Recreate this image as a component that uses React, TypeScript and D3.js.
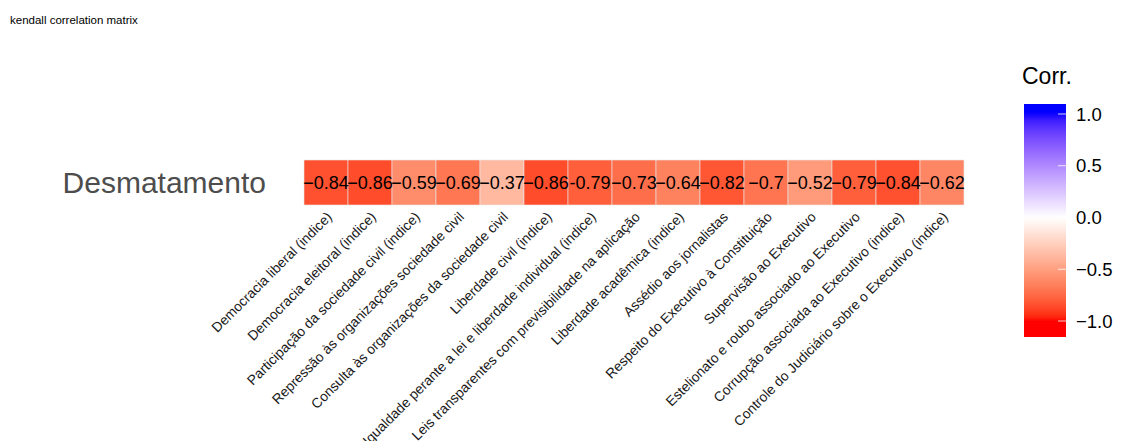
import React from "react";
import * as d3 from "d3";

const title = "kendall correlation matrix";
const rowLabel = "Desmatamento";
const variables = [
  "Democracia liberal (indice)",
  "Democracia eleitoral (indice)",
  "Participação da sociedade civil (indice)",
  "Repressão às organizações  sociedade civil",
  "Consulta às organizações da sociedade civil",
  "Liberdade civil (indice)",
  "Igualdade perante a lei e liberdade individual (indice)",
  "Leis transparentes com previsibilidade na aplicação",
  "Liberdade acadêmica (indice)",
  "Assédio aos jornalistas",
  "Respeito do Executivo à Constituição",
  "Supervisão ao Executivo",
  "Estelionato e roubo associado ao Executivo",
  "Corrupção associada ao Executivo (indice)",
  "Controle do Judiciário sobre o Executivo (indice)",
];
const values = [-0.84, -0.86, -0.59, -0.69, -0.37, -0.86, -0.79, -0.73, -0.64, -0.82, -0.7, -0.52, -0.79, -0.84, -0.62];
const valueLabels = ["−0.84", "−0.86", "−0.59", "−0.69", "−0.37", "−0.86", "-0.79", "−0.73", "−0.64", "−0.82", "−0.7", "−0.52", "−0.79", "−0.84", "−0.62"];
const legendTicks = [1.0, 0.5, 0.0, -0.5, -1.0];
const legendTickLabels = ["1.0", "0.5", "0.0", "−0.5", "−1.0"];

const FONT = "Liberation Sans, Arial, Helvetica, sans-serif";

function corrColor(v: number): string {
  const c = Math.max(-1, Math.min(1, v));
  if (c < 0) return d3.interpolateLab("#ffffff", "#ff0000")(-c);
  return d3.interpolateLab("#ffffff", "#0000ff")(c);
}

export default function App() {
  const W = 1122, H = 441;
  const x = d3.scaleBand<string>().domain(variables).range([304, 964]).padding(0);
  const tileTop = 160, tileH = 45;
  const cy = tileTop + tileH / 2;

  const legY = d3.scaleLinear().domain([-1, 1]).range([321, 114]);
  const barTop = 104, barBottom = 337, barX = 1024, barW = 42;
  const nStops = 60;
  const stops = d3.range(nStops + 1).map((i) => {
    const t = i / nStops;
    const yy = barTop + t * (barBottom - barTop);
    return { offset: t, color: corrColor(legY.invert(yy)) };
  });

  return (
    <svg width={W} height={H} style={{ position: "absolute", left: 0, top: 0, background: "#fff" }} fontFamily={FONT}>
      <defs>
        <linearGradient id="legGrad" x1="0" y1="0" x2="0" y2="1">
          {stops.map((s, i) => (
            <stop key={i} offset={s.offset} stopColor={s.color} />
          ))}
        </linearGradient>
      </defs>
      <rect x={0} y={0} width={W} height={H} fill="#fff" />
      <text x={10} y={24} fontSize={11.5} fill="#000">{title}</text>

      {variables.map((v, i) => (
        <rect key={v} x={x(v)} y={tileTop} width={x.bandwidth()} height={tileH}
          fill={corrColor(values[i])} stroke="#e6e6e6" strokeWidth={0.6} />
      ))}
      {variables.map((v, i) => (
        <text key={"t" + v} x={(x(v) as number) + x.bandwidth() / 2} y={cy} dy="0.36em"
          textAnchor="middle" fontSize={18} fill="#000">{valueLabels[i]}</text>
      ))}

      <text x={266} y={cy} dy="0.36em" textAnchor="end" fontSize={30} fill="#4d4d4d">{rowLabel}</text>

      {variables.map((v) => {
        const ax = (x(v) as number) + x.bandwidth() / 2 - 0.5;
        const ay = 210.5;
        return (
          <text key={"l" + v} transform={`translate(${ax},${ay}) rotate(-45)`} textAnchor="end"
            dy="0.75em" fontSize={13.8} fill="#1a1a1a">{v}</text>
        );
      })}

      <text x={1022} y={84} fontSize={23} fill="#000">Corr.</text>
      <rect x={barX} y={barTop} width={barW} height={barBottom - barTop} fill="url(#legGrad)" />
      {legendTicks.map((t, i) => (
        <g key={"lt" + i}>
          <line x1={barX + barW - 8} x2={barX + barW} y1={legY(t)} y2={legY(t)} stroke="#ffffff" strokeOpacity={0.8} strokeWidth={1} />
          <text x={1076} y={legY(t)} dy="0.36em" fontSize={18.5} fill="#000">{legendTickLabels[i]}</text>
        </g>
      ))}
    </svg>
  );
}
